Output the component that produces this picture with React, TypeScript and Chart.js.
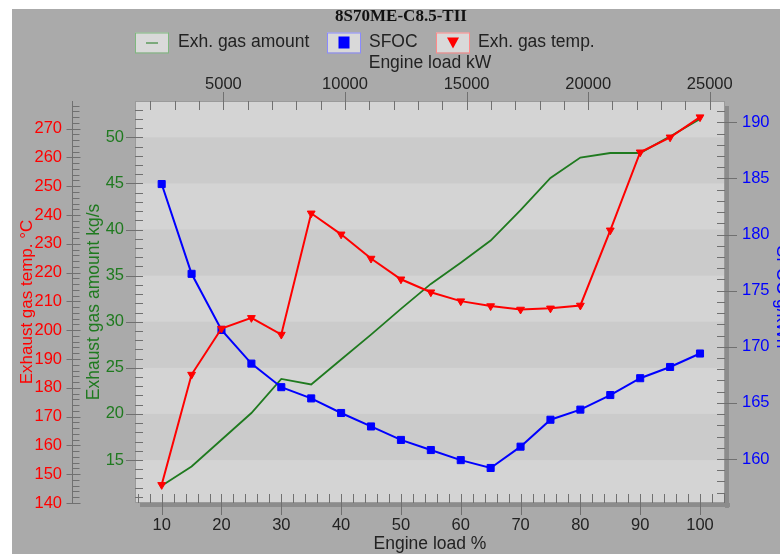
import React, { useEffect, useRef } from 'react';
import { Chart, registerables } from 'chart.js';

Chart.register(...registerables);

const chartTitle = '8S70ME-C8.5-TII';
const loadPct = [10, 15, 20, 25, 30, 35, 40, 45, 50, 55, 60, 65, 70, 75, 80, 85, 90, 95, 100];
const gasAmount = [12.2, 14.3, 17.2, 20.1, 23.8, 23.2, 25.9, 28.6, 31.4, 34.1, 36.4, 38.8, 42.1, 45.6, 47.8, 48.3, 48.3, 50.1, 52.0];
const sfoc = [184.5, 176.5, 171.5, 168.5, 166.4, 165.4, 164.1, 162.9, 161.7, 160.8, 159.9, 159.2, 161.1, 163.5, 164.4, 165.7, 167.2, 168.2, 169.4];
const gasTemp = [146.3, 184.6, 200.6, 204.3, 198.5, 240.6, 233.3, 224.9, 217.7, 213.2, 210.1, 208.4, 207.2, 207.6, 208.6, 234.7, 261.8, 267.0, 274.0];

const loadTicks = [10, 20, 30, 40, 50, 60, 70, 80, 90, 100];
const kwTicks = [5000, 10000, 15000, 20000, 25000];
const tempTicks = [140, 150, 160, 170, 180, 190, 200, 210, 220, 230, 240, 250, 260, 270];
const amountTicks = [15, 20, 25, 30, 35, 40, 45, 50];
const sfocTicks = [160, 165, 170, 175, 180, 185, 190];

const MCR_KW = 24600;
const LOAD_MIN = 5.54;
const LOAD_MAX = 104.18;

const SANS = "'Liberation Sans', Arial, sans-serif";
const SERIF = "'Liberation Serif', 'Times New Roman', serif";
const RED = '#ff0000';
const GREEN = '#1f7a1f';
const BLUE = '#0000ff';
const TEXT = '#222222';

const setTicks = (vals: number[]) => (s: any) => {
  s.ticks = vals.map((v) => ({ value: v }));
};

const decor = {
  id: 'decor',
  beforeDraw(chart: any) {
    const { ctx, chartArea: a } = chart;
    const ya = chart.scales.yAmt;
    ctx.save();
    ctx.fillStyle = '#ffffff';
    ctx.fillRect(0, 0, chart.width, chart.height);
    ctx.fillStyle = '#aaaaaa';
    ctx.fillRect(12, 9, chart.width - 12, chart.height - 9);
    // shadow
    ctx.fillStyle = '#8c8c8c';
    ctx.fillRect(a.left + 5, a.bottom, a.right - a.left, 4);
    ctx.fillRect(a.right, a.top + 5, 4, a.bottom - a.top);
    // plot background
    ctx.fillStyle = '#d4d4d4';
    ctx.fillRect(a.left, a.top, a.right - a.left, a.bottom - a.top);
    ctx.fillStyle = '#cbcbcb';
    for (let i = 0; i + 1 < amountTicks.length; i += 2) {
      const y0 = ya.getPixelForValue(amountTicks[i + 1]);
      const y1 = ya.getPixelForValue(amountTicks[i]);
      ctx.fillRect(a.left, y0, a.right - a.left, y1 - y0);
    }
    ctx.strokeStyle = '#9a9a9a';
    ctx.lineWidth = 1;
    ctx.strokeRect(a.left + 0.5, a.top + 0.5, a.right - a.left - 1, a.bottom - a.top - 1);
    ctx.restore();
  },
  beforeDatasetsDraw(chart: any) {
    const { ctx, chartArea: a, scales } = chart;
    ctx.save();
    ctx.strokeStyle = '#707070';
    ctx.lineWidth = 1;
    const line = (x1: number, y1: number, x2: number, y2: number) => {
      ctx.beginPath();
      ctx.moveTo(x1, y1);
      ctx.lineTo(x2, y2);
      ctx.stroke();
    };
    // bottom axis
    for (let v = 6; v <= LOAD_MAX; v += 2) {
      const x = Math.round(scales.x.getPixelForValue(v)) + 0.5;
      if (v % 10 === 0) line(x, a.bottom - 9, x, a.bottom + 12);
      else line(x, a.bottom - 9, x, a.bottom);
    }
    // top axis
    for (let v = 2000; v <= 25000; v += 1000) {
      const x = Math.round(scales.x2.getPixelForValue(v)) + 0.5;
      if (v % 5000 === 0) line(x, a.top - 9, x, a.top + 9);
      else line(x, a.top, x, a.top + 9);
    }
    // left amount axis
    for (let v = 11; v <= 53; v += 1) {
      const y = Math.round(scales.yAmt.getPixelForValue(v)) + 0.5;
      if (v % 5 === 0) line(a.left - 9, y, a.left + 8, y);
      else line(a.left, y, a.left + 8, y);
    }
    // right sfoc axis
    for (let v = 157; v <= 191; v += 1) {
      const y = Math.round(scales.ySfoc.getPixelForValue(v)) + 0.5;
      if (v % 5 === 0) line(a.right - 8, y, a.right + 12, y);
      else line(a.right - 8, y, a.right, y);
    }
    // temp axis (outer)
    const tx = scales.yTemp.right - 0.5;
    line(tx, a.top, tx, a.bottom);
    for (let v = 140; v <= 278; v += 2) {
      const y = Math.round(scales.yTemp.getPixelForValue(v)) + 0.5;
      if (v % 10 === 0) line(tx - 6, y, tx + 8, y);
      else line(tx, y, tx + 7, y);
    }
    ctx.restore();
  },
  afterDraw(chart: any) {
    const { ctx, chartArea: a } = chart;
    const ds = chart.data.datasets;
    const cx = (a.left + a.right) / 2;
    const cy = (a.top + a.bottom) / 2;
    ctx.save();
    // chart title
    ctx.fillStyle = '#111111';
    ctx.font = `bold 17px ${SERIF}`;
    ctx.textAlign = 'center';
    ctx.textBaseline = 'middle';
    ctx.fillText(chartTitle, 401, 17);

    // legend
    ctx.font = `17.5px ${SANS}`;
    ctx.textAlign = 'left';
    const ly = 42.5;
    const items = [
      { box: 135, text: 178, border: '#7fb87f', ds: ds[0] },
      { box: 327, text: 369, border: '#8a8aff', ds: ds[1] },
      { box: 436, text: 478, border: '#ff8a8a', ds: ds[2] },
    ];
    items.forEach((it, i) => {
      ctx.fillStyle = '#d9d9d9';
      ctx.fillRect(it.box, ly - 10, 33, 20);
      ctx.strokeStyle = it.border;
      ctx.lineWidth = 1;
      ctx.strokeRect(it.box + 0.5, ly - 9.5, 33, 20);
      const mx = it.box + 17;
      if (i === 0) {
        ctx.strokeStyle = GREEN;
        ctx.beginPath();
        ctx.moveTo(mx - 6, ly + 0.5);
        ctx.lineTo(mx + 6, ly + 0.5);
        ctx.stroke();
      } else if (i === 1) {
        ctx.fillStyle = BLUE;
        ctx.fillRect(mx - 5.5, ly - 6, 11, 12);
      } else {
        ctx.fillStyle = RED;
        ctx.beginPath();
        ctx.moveTo(mx - 6, ly - 5);
        ctx.lineTo(mx + 6, ly - 5);
        ctx.lineTo(mx, ly + 6);
        ctx.closePath();
        ctx.fill();
      }
      ctx.fillStyle = TEXT;
      ctx.fillText(it.ds.label, it.text, ly);
    });

    // axis titles
    ctx.fillStyle = TEXT;
    ctx.textAlign = 'center';
    ctx.textBaseline = 'middle';
    ctx.font = `17.5px ${SANS}`;
    ctx.fillText('Engine load kW', cx, 63);
    ctx.fillText('Engine load %', cx, 544);

    ctx.textBaseline = 'alphabetic';
    ctx.font = `17px ${SANS}`;
    ctx.save();
    ctx.translate(31.5, cy);
    ctx.rotate(-Math.PI / 2);
    ctx.fillStyle = RED;
    ctx.fillText('Exhaust gas temp. \u00B0C', 0, 0);
    ctx.restore();

    ctx.font = `17.5px ${SANS}`;
    ctx.save();
    ctx.translate(99, cy);
    ctx.rotate(-Math.PI / 2);
    ctx.fillStyle = GREEN;
    ctx.fillText('Exhaust gas amount kg/s', 0, 0);
    ctx.restore();

    ctx.save();
    ctx.translate(777, 297);
    ctx.rotate(Math.PI / 2);
    ctx.fillStyle = BLUE;
    ctx.fillText('SFOC g/kWh', 0, 0);
    ctx.restore();

    ctx.restore();
  },
};

export default function App() {
  const ref = useRef<HTMLCanvasElement>(null);

  useEffect(() => {
    if (!ref.current) return;
    const tickFont = { family: SANS, size: 16.5 };
    const chart = new Chart(ref.current, {
      type: 'line',
      data: {
        datasets: [
          {
            label: 'Exh. gas amount',
            data: loadPct.map((x, i) => ({ x, y: gasAmount[i] })),
            yAxisID: 'yAmt',
            xAxisID: 'x',
            borderColor: GREEN,
            backgroundColor: GREEN,
            borderWidth: 1.8,
            pointRadius: 0,
            tension: 0,
            order: 2,
          },
          {
            label: 'SFOC',
            data: loadPct.map((x, i) => ({ x, y: sfoc[i] })),
            yAxisID: 'ySfoc',
            xAxisID: 'x',
            borderColor: BLUE,
            backgroundColor: BLUE,
            borderWidth: 2,
            pointStyle: 'rect',
            pointRadius: 5,
            pointBorderWidth: 1,
            tension: 0,
            order: 1,
          },
          {
            label: 'Exh. gas temp.',
            data: loadPct.map((x, i) => ({ x, y: gasTemp[i] })),
            yAxisID: 'yTemp',
            xAxisID: 'x',
            borderColor: RED,
            backgroundColor: RED,
            borderWidth: 2,
            pointStyle: 'triangle',
            pointRotation: 180,
            pointRadius: 4.5,
            pointBorderWidth: 1,
            tension: 0,
            order: 0,
          },
        ],
      },
      options: {
        animation: false,
        responsive: false,
        devicePixelRatio: 1,
        layout: { padding: 0 },
        plugins: {
          legend: { display: false },
          title: { display: false },
          tooltip: { enabled: false },
        },
        scales: {
          x: {
            type: 'linear',
            position: 'bottom',
            min: LOAD_MIN,
            max: LOAD_MAX,
            afterBuildTicks: setTicks(loadTicks),
            afterFit: (s: any) => { s.height = 51; },
            grid: { display: false, drawTicks: false },
            border: { display: false },
            ticks: { padding: 13, color: TEXT, font: tickFont, autoSkip: false, maxRotation: 0, callback: (v: any) => String(v) },
          },
          x2: {
            type: 'linear',
            position: 'top',
            min: (LOAD_MIN * MCR_KW) / 100,
            max: (LOAD_MAX * MCR_KW) / 100,
            afterBuildTicks: setTicks(kwTicks),
            afterFit: (s: any) => { s.height = 101; },
            grid: { display: false, drawTicks: false },
            border: { display: false },
            ticks: { padding: 7, color: TEXT, font: tickFont, autoSkip: false, maxRotation: 0, callback: (v: any) => String(v) },
          },
          yTemp: {
            type: 'linear',
            position: 'left',
            weight: 1,
            min: 140,
            max: 279.6,
            afterBuildTicks: setTicks(tempTicks),
            afterFit: (s: any) => { s.width = 73; },
            grid: { display: false, drawTicks: false },
            border: { display: false },
            ticks: { padding: 11, color: RED, font: tickFont, autoSkip: false, callback: (v: any) => String(v) },
          },
          yAmt: {
            type: 'linear',
            position: 'left',
            weight: 0,
            min: 10.34,
            max: 53.94,
            afterBuildTicks: setTicks(amountTicks),
            afterFit: (s: any) => { s.width = 62; },
            grid: { display: false, drawTicks: false },
            border: { display: false },
            ticks: { padding: 11, color: GREEN, font: tickFont, autoSkip: false, callback: (v: any) => String(v) },
          },
          ySfoc: {
            type: 'linear',
            position: 'right',
            min: 156.08,
            max: 191.9,
            afterBuildTicks: setTicks(sfocTicks),
            afterFit: (s: any) => { s.width = 55; },
            grid: { display: false, drawTicks: false },
            border: { display: false },
            ticks: { padding: 17, color: BLUE, font: tickFont, autoSkip: false, callback: (v: any) => String(v) },
          },
        },
      },
      plugins: [decor],
    } as any);
    return () => chart.destroy();
  }, []);

  return (
    <div style={{ position: 'absolute', left: 0, top: 0, width: 780, height: 554 }}>
      <canvas ref={ref} width={780} height={554} style={{ display: 'block' }} />
    </div>
  );
}
